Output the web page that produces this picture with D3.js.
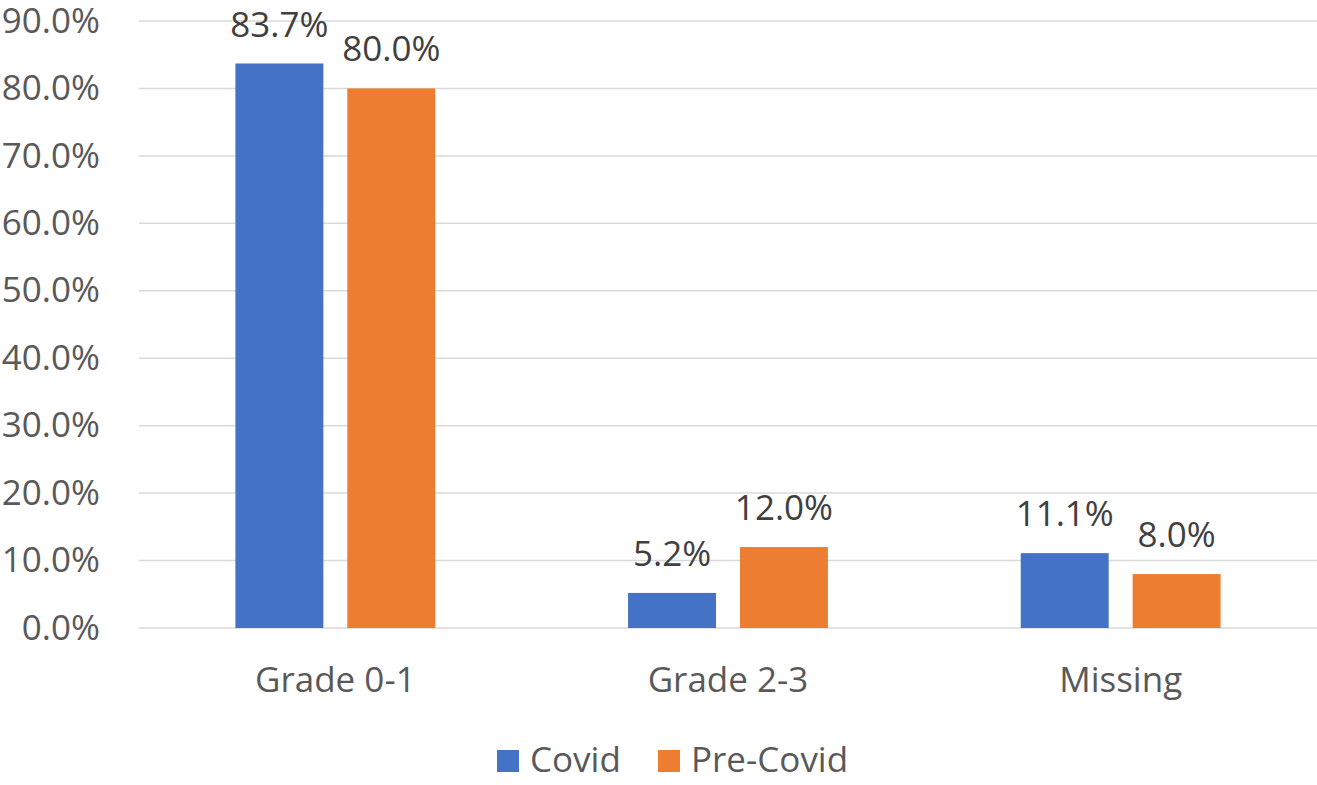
<!DOCTYPE html>
<html>
<head>
<meta charset="utf-8">
<script src="https://cdn.jsdelivr.net/npm/d3@7"></script>
<style>
  html, body { margin: 0; padding: 0; background: #fff; }
  svg text { font-family: "Open Sans", sans-serif; }
</style>
</head>
<body>
<script>
// chart data
var categories = ["Grade 0-1", "Grade 2-3", "Missing"];
var seriesNames = ["Covid", "Pre-Covid"];
var covidValues = [83.7, 5.2, 11.1];
var preCovidValues = [80.0, 12.0, 8.0];
var yTicks = [0, 10, 20, 30, 40, 50, 60, 70, 80, 90];

var colors = ["#4472C4", "#ED7D31"];
var w = 1317, h = 785;
var fs = "35px";

var svg = d3.select("body").append("svg")
  .attr("width", w)
  .attr("height", h);

// y scale: 0 at the baseline, 90 at the top gridline
var y = d3.scaleLinear().domain([0, 90]).range([628, 21]);

var x0 = d3.scaleBand()
  .domain(categories)
  .range([139, 1317])
  .paddingInner(0.491)
  .paddingOuter(0.2455);

var x1 = d3.scaleBand()
  .domain(seriesNames)
  .range([0, x0.bandwidth()])
  .paddingInner(0.214);

// gridlines
svg.append("g").selectAll("line")
  .data(yTicks)
  .enter()
  .append("line")
  .attr("x1", 139)
  .attr("x2", w)
  .attr("y1", function(d) { return y(d); })
  .attr("y2", function(d) { return y(d); })
  .attr("stroke", "#D9D9D9")
  .attr("stroke-width", 1.5);

// y axis labels
var yAxis = d3.axisLeft(y)
  .tickValues(yTicks)
  .tickSize(0)
  .tickPadding(0)
  .tickFormat(function(d) { return d.toFixed(1) + "%"; });

var yg = svg.append("g")
  .attr("transform", "translate(100,0)")
  .call(yAxis);
yg.select(".domain").remove();
yg.selectAll("text")
  .attr("font-size", fs)
  .attr("fill", "#595959")
  .attr("font-family", "Open Sans, sans-serif");

// bars
var rows = categories.map(function(c, i) {
  return { cat: c, vals: [covidValues[i], preCovidValues[i]] };
});

var groups = svg.selectAll(".grp")
  .data(rows)
  .enter()
  .append("g")
  .attr("class", "grp")
  .attr("transform", function(d) { return "translate(" + x0(d.cat) + ",0)"; });

groups.selectAll("rect")
  .data(function(d) {
    return d.vals.map(function(v, j) { return { name: seriesNames[j], v: v, j: j }; });
  })
  .enter()
  .append("rect")
  .attr("x", function(d) { return x1(d.name); })
  .attr("y", function(d) { return y(d.v); })
  .attr("width", x1.bandwidth())
  .attr("height", function(d) { return y(0) - y(d.v); })
  .attr("fill", function(d) { return colors[d.j]; });

// data labels
groups.selectAll("text.lbl")
  .data(function(d) {
    return d.vals.map(function(v, j) { return { name: seriesNames[j], v: v }; });
  })
  .enter()
  .append("text")
  .attr("class", "lbl")
  .attr("x", function(d) { return x1(d.name) + x1.bandwidth() / 2; })
  .attr("y", function(d) { return y(d.v) - 27; })
  .attr("text-anchor", "middle")
  .attr("font-size", fs)
  .attr("fill", "#404040")
  .text(function(d) { return d.v.toFixed(1) + "%"; });

// category labels
var xAxis = d3.axisBottom(x0).tickSize(0).tickPadding(0);
var xg = svg.append("g")
  .attr("transform", "translate(0,628)")
  .call(xAxis);
xg.select(".domain").remove();
xg.selectAll("text")
  .attr("dy", null)
  .attr("y", 64)
  .attr("font-size", fs)
  .attr("fill", "#595959")
  .attr("font-family", "Open Sans, sans-serif");

// legend
var legend = svg.append("g").selectAll("g")
  .data(seriesNames)
  .enter()
  .append("g")
  .attr("transform", function(d, i) { return "translate(" + (i == 0 ? 497 : 658) + ",750)"; });

legend.append("rect")
  .attr("width", 22)
  .attr("height", 22)
  .attr("fill", function(d, i) { return colors[i]; });

legend.append("text")
  .attr("x", 33)
  .attr("y", 22)
  .attr("font-size", fs)
  .attr("fill", "#595959")
  .text(function(d) { return d; });
</script>
</body>
</html>
